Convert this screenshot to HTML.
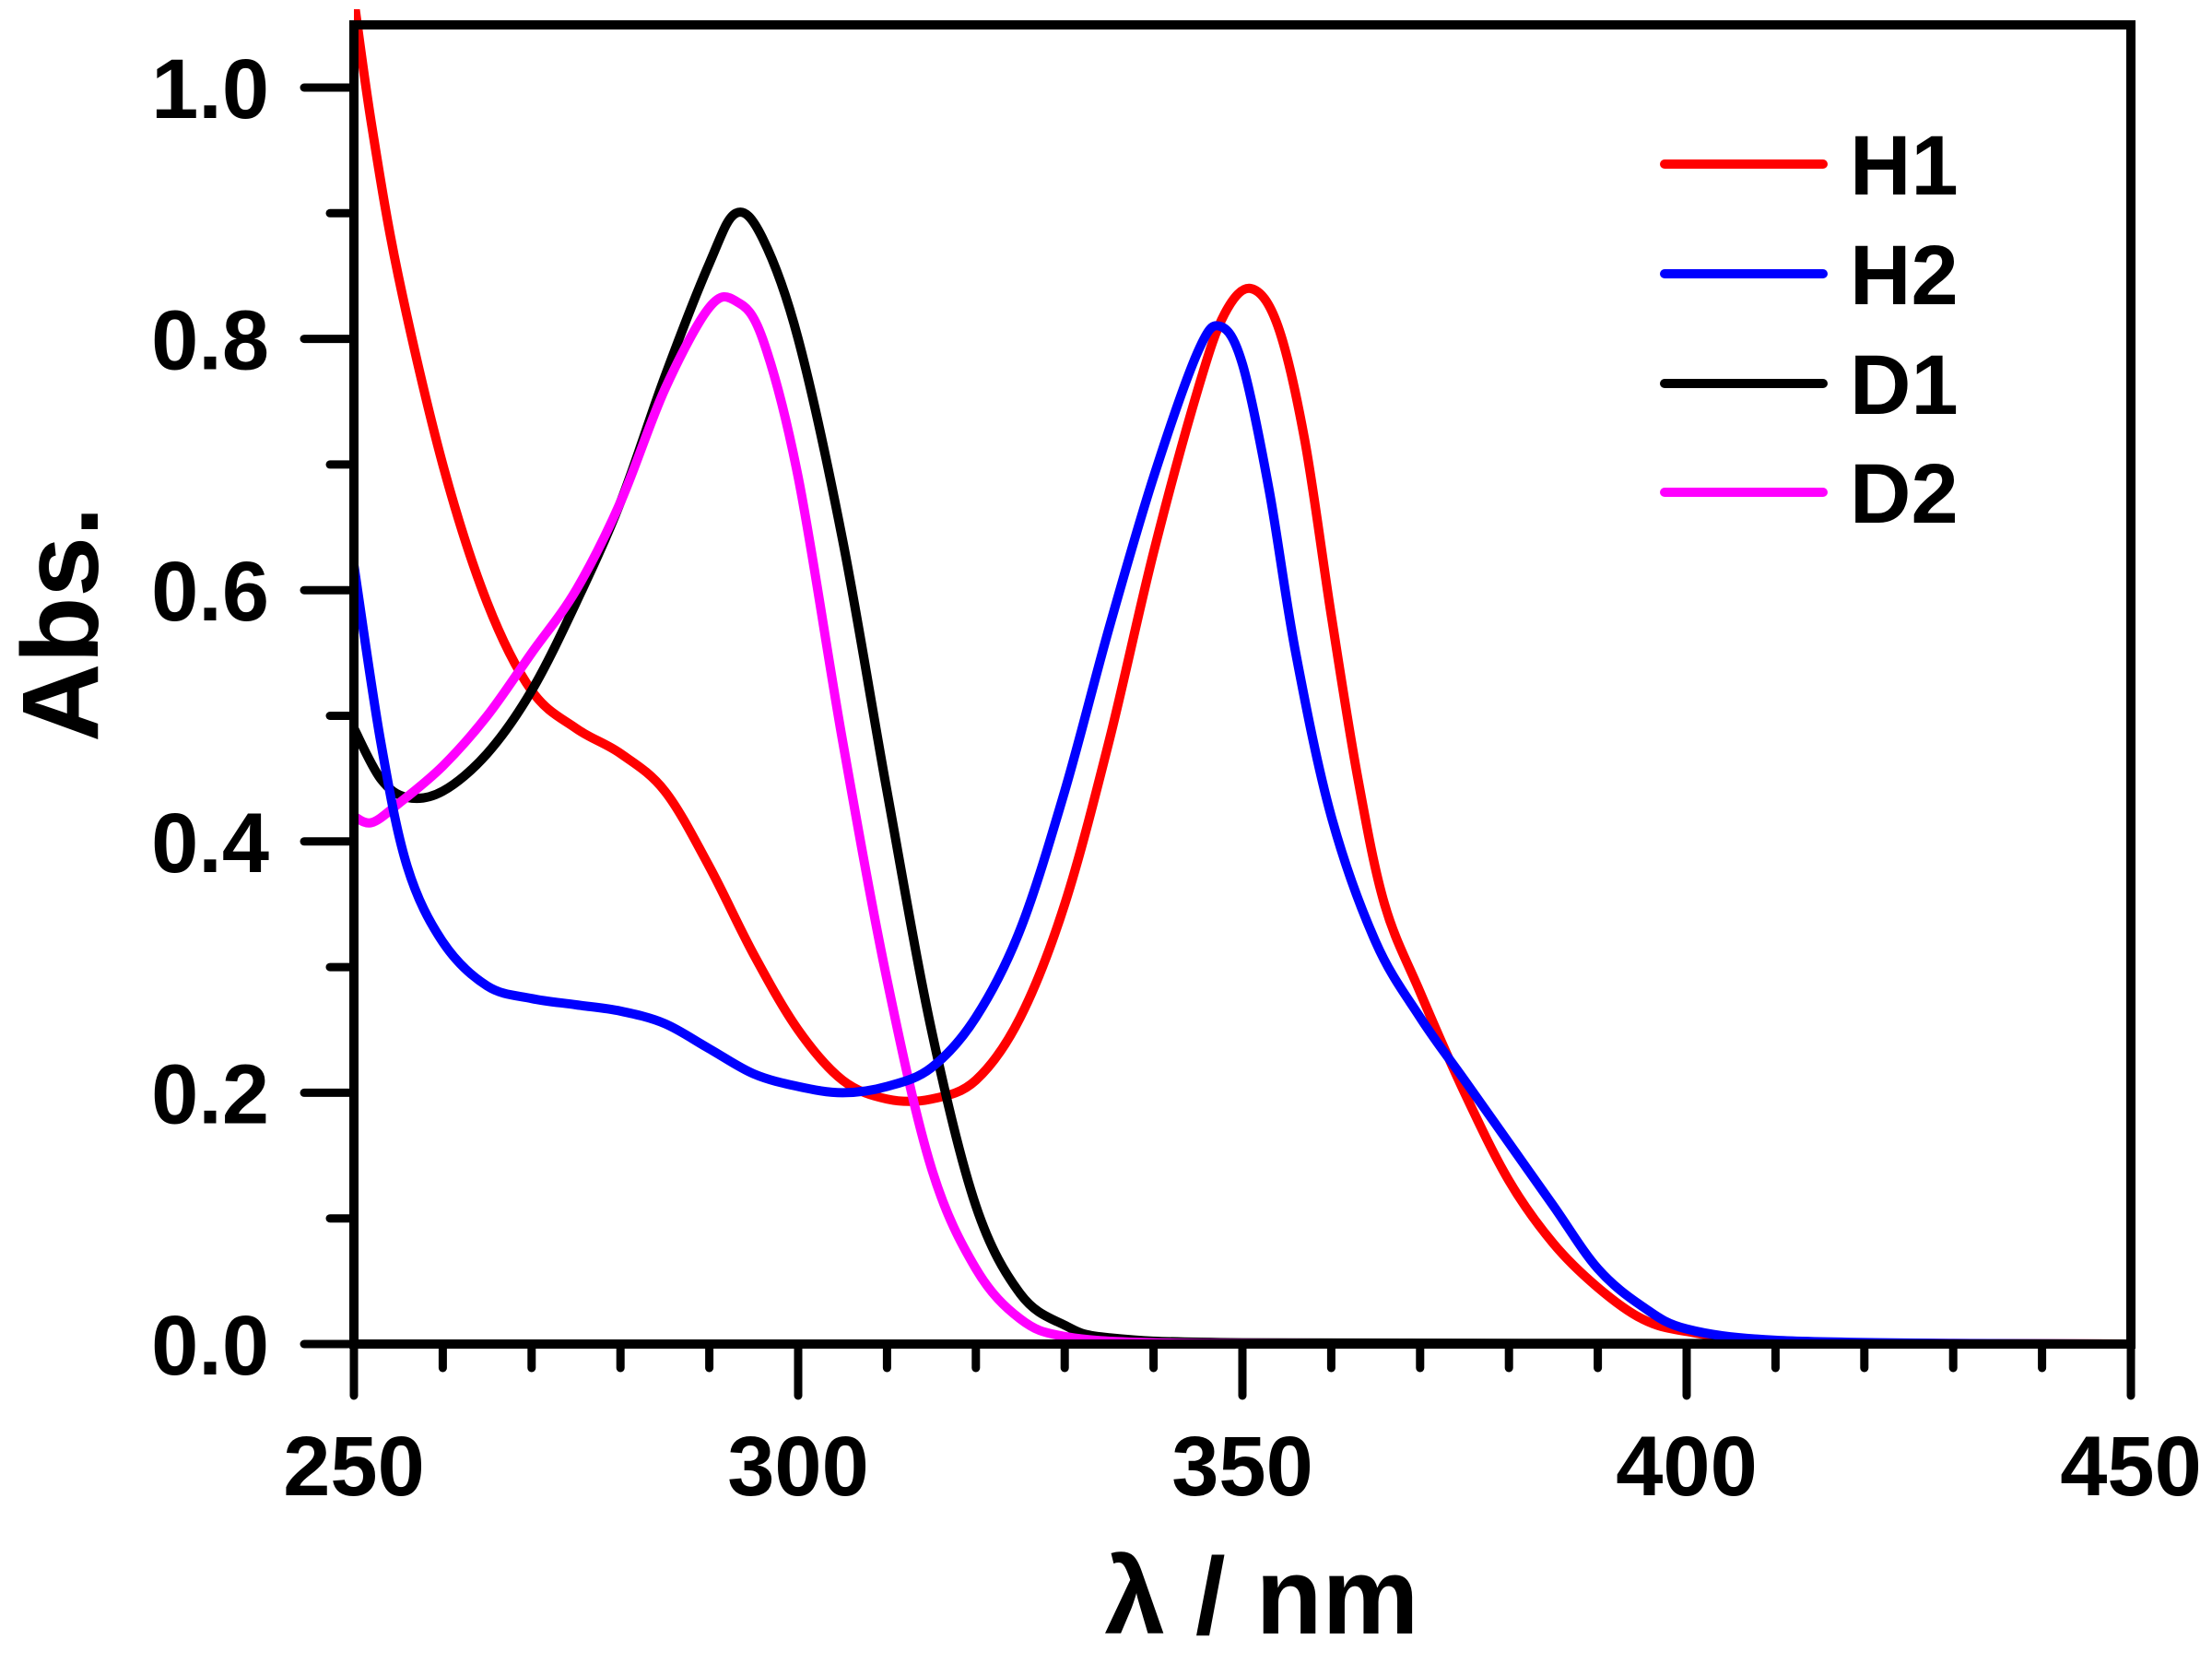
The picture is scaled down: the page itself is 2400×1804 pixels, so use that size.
<!DOCTYPE html>
<html><head><meta charset="utf-8"><style>
html,body{margin:0;padding:0;background:#fff;}
svg{display:block;}
text{font-family:"Liberation Sans",sans-serif;font-weight:bold;fill:#000;}
</style></head><body>
<svg id="s" width="2400" height="1804" viewBox="0 0 2400 1804" xmlns="http://www.w3.org/2000/svg">
<defs><clipPath id="cp"><rect x="384" y="10" width="1928" height="1460"/></clipPath></defs>
<g id="curves" fill="none" stroke-width="10" stroke-linejoin="round" stroke-linecap="round" clip-path="url(#cp)"></g>
<rect x="384" y="27" width="1928" height="1431" fill="none" stroke="#000" stroke-width="10"/>
<g id="ticks" stroke="#000" stroke-width="9" stroke-linecap="round"></g>
<g id="labels" font-size="92"></g>
<text x="1369" y="1772" font-size="118" text-anchor="middle">λ / nm</text>
<text transform="translate(106,677) rotate(-90)" font-size="118" text-anchor="middle">Abs.</text>
<g stroke-width="10" stroke-linecap="round">
<line x1="1806" y1="178" x2="1978" y2="178" stroke="#ff0000"/>
<line x1="1806" y1="297" x2="1978" y2="297" stroke="#0000ff"/>
<line x1="1806" y1="416" x2="1978" y2="416" stroke="#000"/>
<line x1="1806" y1="534" x2="1978" y2="534" stroke="#ff00ff"/>
</g>
<g font-size="92">
<text x="2007" y="211">H1</text>
<text x="2007" y="330">H2</text>
<text x="2007" y="449">D1</text>
<text x="2007" y="567">D2</text>
</g>
</svg>
<script>
var X=function(n){return 384+(n-250)*9.64;},Y=function(a){return 1458-a*1363;};
var ns="http://www.w3.org/2000/svg";
function el(t,a,p){var e=document.createElementNS(ns,t);for(var k in a)e.setAttribute(k,a[k]);p.appendChild(e);return e;}
var tg=document.getElementById('ticks'),lg=document.getElementById('labels');
for(var i=0;i<=10;i++){var y=Y(i/10);var L=i%2==0?54:26;el('line',{x1:384-L,y1:y,x2:384,y2:y},tg);
 if(i%2==0){var t=el('text',{x:292,y:y+33,'text-anchor':'end'},lg);t.textContent=(i/10).toFixed(1);}}
for(var n=250;n<=450;n+=10){var x=X(n);var L=n%50==0?56:26;el('line',{x1:x,y1:1458,x2:x,y2:1458+L},tg);
 if(n%50==0){var t=el('text',{x:x,y:1622,'text-anchor':'middle'},lg);t.textContent=n;}}
var D={
"#ff0000":[[250,1.07],[252,0.97],[255,0.85],[260,0.70],[265,0.59],[270,0.52],[275,0.49],[280,0.47],[285,0.44],[290,0.38],[295,0.31],[300,0.25],[305,0.21],[310,0.195],[315,0.195],[320,0.21],[325,0.26],[330,0.35],[335,0.48],[340,0.63],[345,0.76],[348,0.82],[351,0.84],[354,0.81],[357,0.72],[360,0.58],[363,0.45],[366,0.35],[370,0.28],[375,0.20],[380,0.13],[385,0.08],[390,0.045],[395,0.02],[400,0.01],[410,0.002],[430,0.0005],[450,0]],
"#000000":[[250,0.49],[253,0.45],[256,0.435],[260,0.44],[265,0.47],[270,0.52],[275,0.59],[280,0.67],[285,0.77],[290,0.86],[293,0.90],[296,0.88],[300,0.80],[305,0.64],[310,0.44],[315,0.25],[320,0.11],[325,0.04],[330,0.015],[335,0.005],[350,0.001],[400,0.0005],[450,0]],
"#ff00ff":[[250,0.42],[252,0.415],[255,0.43],[260,0.46],[265,0.50],[270,0.55],[275,0.60],[280,0.67],[285,0.76],[290,0.825],[293,0.83],[296,0.80],[300,0.69],[305,0.48],[310,0.29],[315,0.14],[320,0.06],[325,0.02],[330,0.006],[340,0.001],[360,0]],
"#0000ff":[[250,0.62],[253,0.48],[256,0.38],[260,0.32],[265,0.285],[270,0.275],[275,0.27],[280,0.265],[285,0.255],[290,0.235],[295,0.215],[300,0.205],[305,0.2],[310,0.205],[315,0.22],[320,0.26],[325,0.33],[330,0.44],[335,0.57],[340,0.69],[345,0.79],[347.5,0.81],[350,0.78],[353,0.68],[356,0.55],[360,0.42],[365,0.32],[370,0.26],[375,0.21],[380,0.16],[385,0.11],[390,0.06],[395,0.03],[400,0.012],[410,0.003],[430,0.0005],[450,0]]};
var cg=document.getElementById('curves');
for(var c in D){var p=D[c].map(function(q){return [X(q[0]),Y(q[1])];});
 var d='M'+p[0][0]+','+p[0][1];
 for(var i=0;i<p.length-1;i++){var p0=p[i-1]||p[i],p1=p[i],p2=p[i+1],p3=p[i+2]||p2;
  d+=' C'+(p1[0]+(p2[0]-p0[0])/6)+','+(p1[1]+(p2[1]-p0[1])/6)+' '+(p2[0]-(p3[0]-p1[0])/6)+','+(p2[1]-(p3[1]-p1[1])/6)+' '+p2[0]+','+p2[1];}
 el('path',{d:d,stroke:c},cg);}
</script>
</body></html>
